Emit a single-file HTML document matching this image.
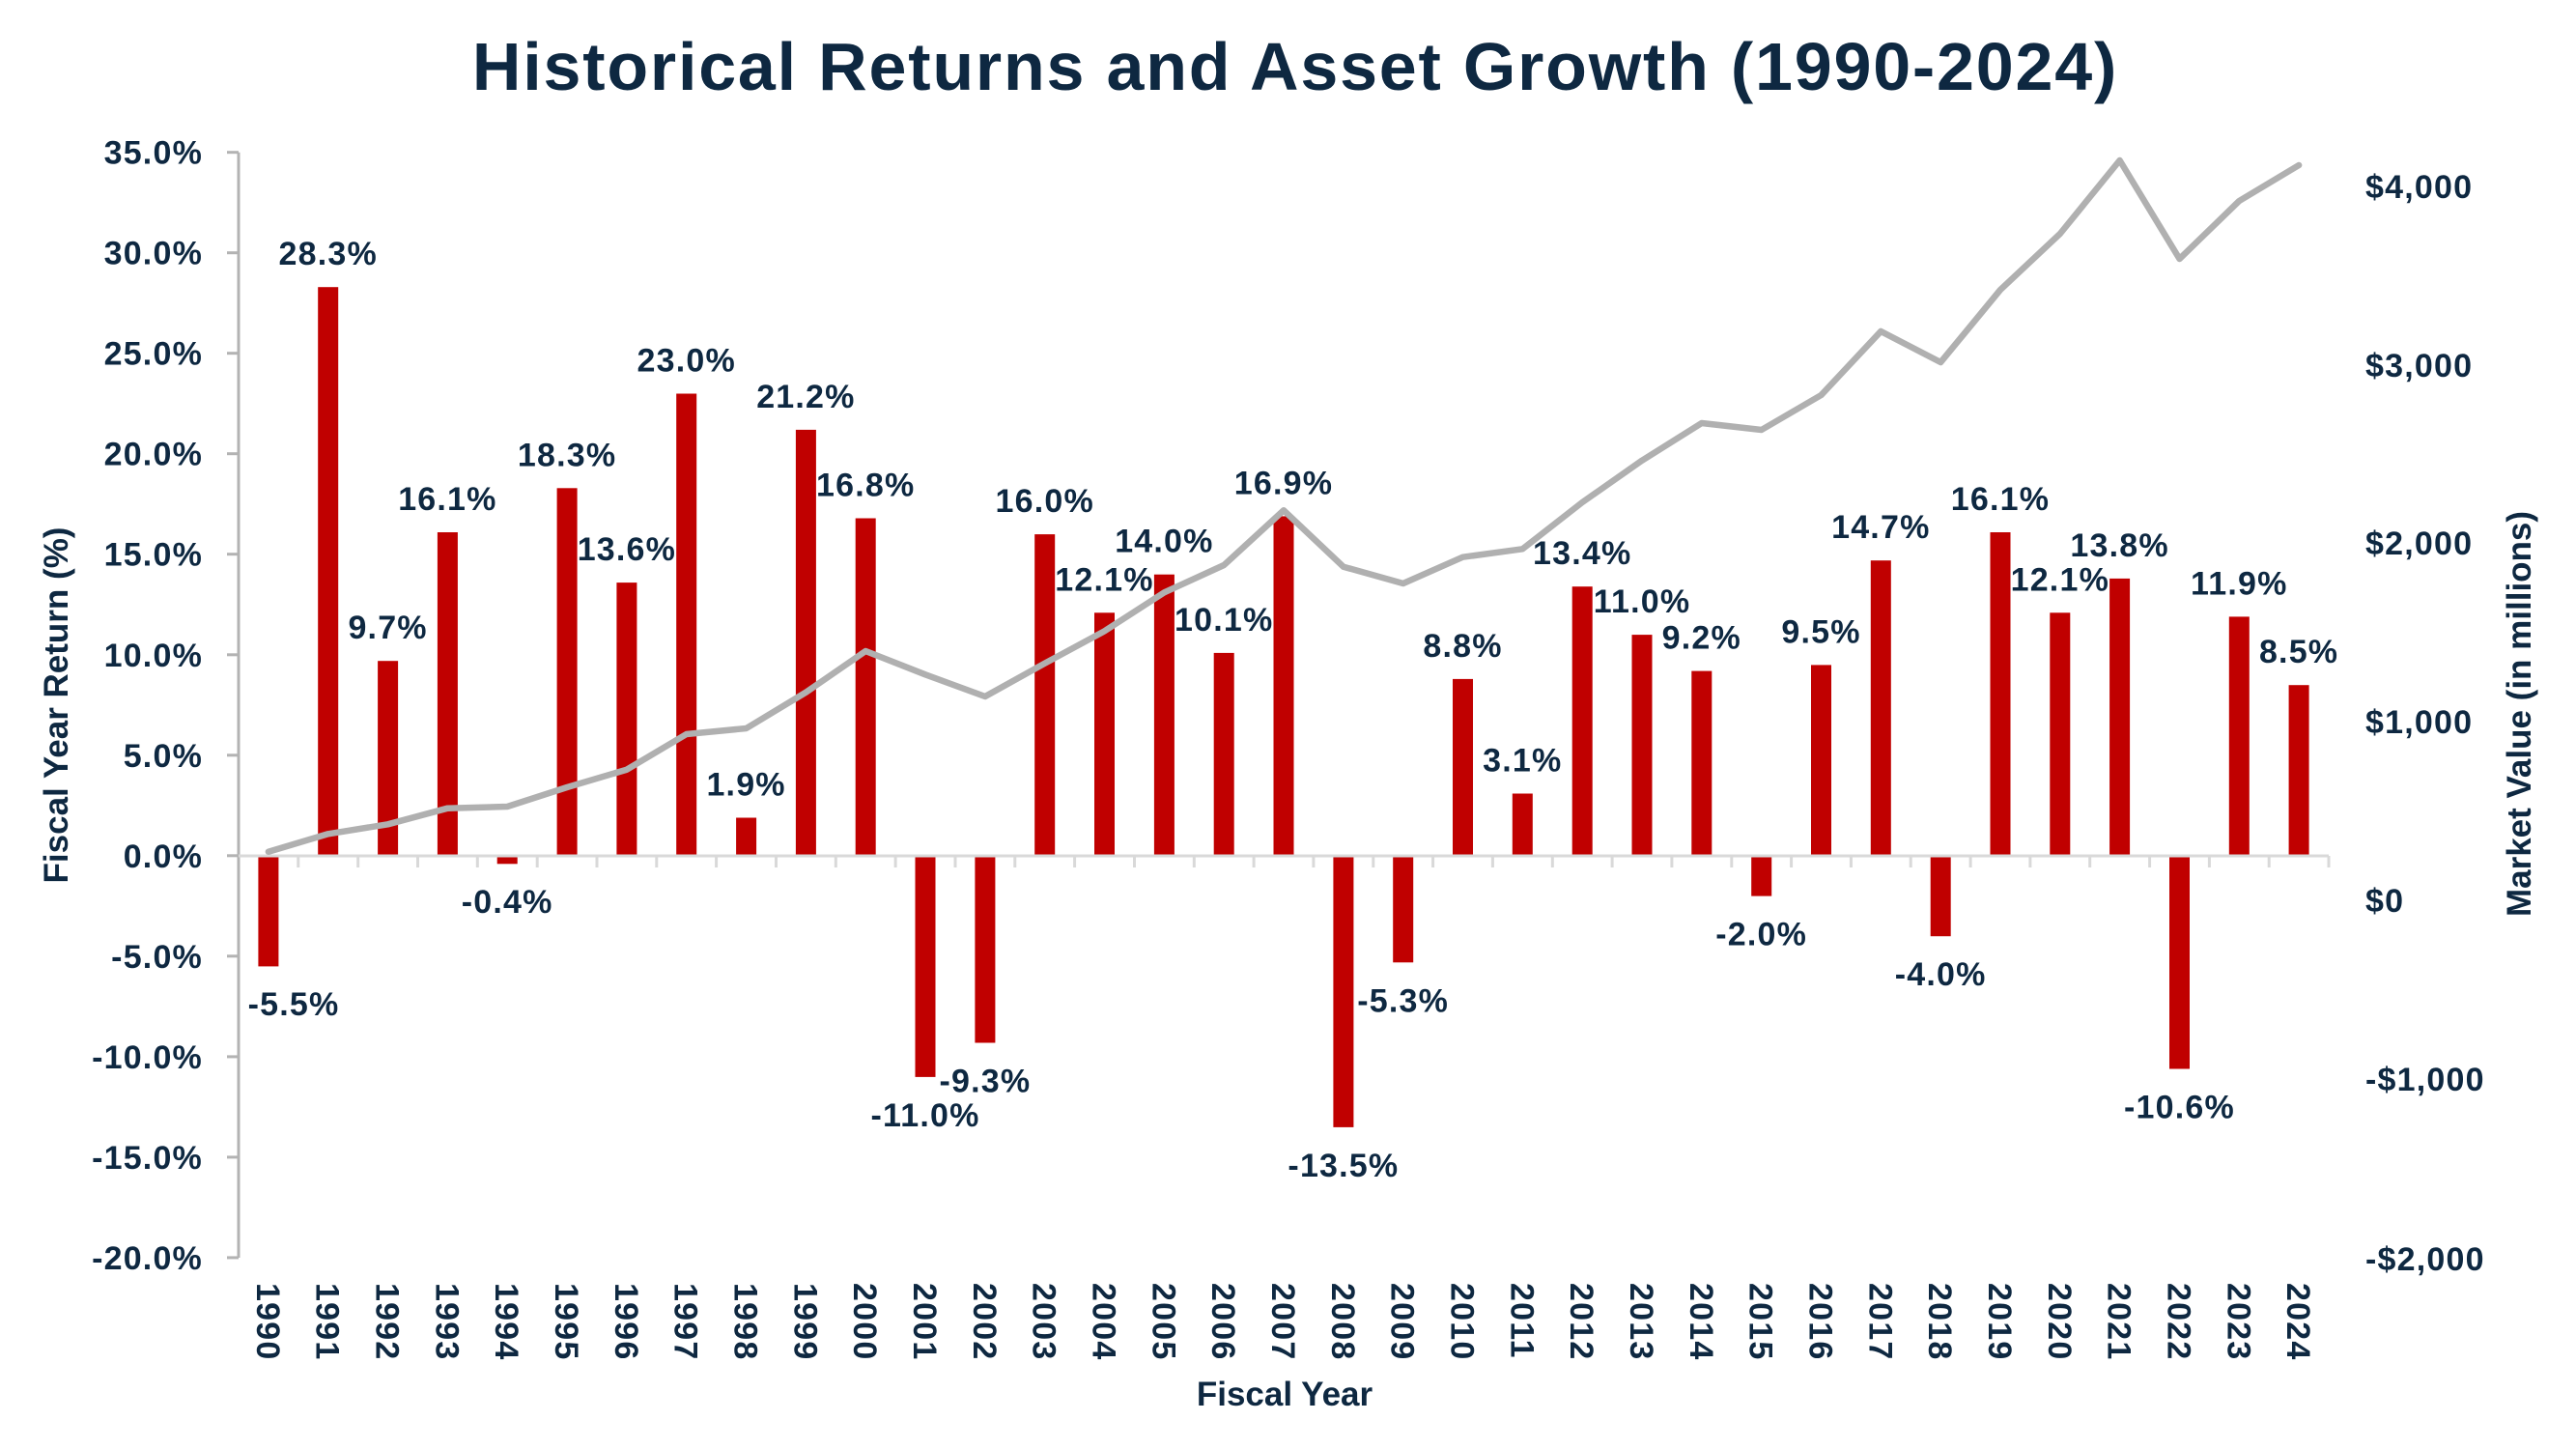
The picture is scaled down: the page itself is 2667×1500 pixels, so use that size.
<!DOCTYPE html>
<html>
<head>
<meta charset="utf-8">
<style>
  html,body{margin:0;padding:0;background:#ffffff;}
  svg{display:block;}
  text{font-family:"Liberation Sans",Arial,sans-serif;font-weight:bold;fill:#0E2841;}
  .tk{font-size:34px;letter-spacing:1.2px;}
  .dl{font-size:34px;letter-spacing:1.2px;text-anchor:middle;}
  .at{font-size:35px;text-anchor:middle;}
</style>
</head>
<body>
<svg width="2667" height="1500" viewBox="0 0 2667 1500" xmlns="http://www.w3.org/2000/svg">
<rect x="0" y="0" width="2667" height="1500" fill="#ffffff"/>

<!-- Title -->
<text x="1341" y="93" style="font-size:70px;letter-spacing:1.8px;" text-anchor="middle">Historical Returns and Asset Growth (1990-2024)</text>

<!-- Left axis -->
<g stroke="#b3b3b3" stroke-width="3" fill="none">
  <line x1="247" y1="157.7" x2="247" y2="1302"/>
  <line x1="235" y1="157.7" x2="247" y2="157.7"/>
  <line x1="235" y1="261.7" x2="247" y2="261.7"/>
  <line x1="235" y1="365.7" x2="247" y2="365.7"/>
  <line x1="235" y1="469.7" x2="247" y2="469.7"/>
  <line x1="235" y1="573.7" x2="247" y2="573.7"/>
  <line x1="235" y1="677.8" x2="247" y2="677.8"/>
  <line x1="235" y1="781.8" x2="247" y2="781.8"/>
  <line x1="235" y1="885.8" x2="247" y2="885.8"/>
  <line x1="235" y1="989.8" x2="247" y2="989.8"/>
  <line x1="235" y1="1093.9" x2="247" y2="1093.9"/>
  <line x1="235" y1="1197.9" x2="247" y2="1197.9"/>
  <line x1="235" y1="1301.9" x2="247" y2="1301.9"/>
</g>
<g class="tk" text-anchor="end">
  <text x="210" y="169.7">35.0%</text>
  <text x="210" y="273.7">30.0%</text>
  <text x="210" y="377.7">25.0%</text>
  <text x="210" y="481.7">20.0%</text>
  <text x="210" y="585.7">15.0%</text>
  <text x="210" y="689.8">10.0%</text>
  <text x="210" y="793.8">5.0%</text>
  <text x="210" y="897.8">0.0%</text>
  <text x="210" y="1001.8">-5.0%</text>
  <text x="210" y="1105.9">-10.0%</text>
  <text x="210" y="1209.9">-15.0%</text>
  <text x="210" y="1313.9">-20.0%</text>
</g>

<!-- Right axis labels -->
<g class="tk" text-anchor="start">
  <text x="2449" y="205">$4,000</text>
  <text x="2449" y="390">$3,000</text>
  <text x="2449" y="574">$2,000</text>
  <text x="2449" y="759">$1,000</text>
  <text x="2449" y="944">$0</text>
  <text x="2449" y="1129">-$1,000</text>
  <text x="2449" y="1315">-$2,000</text>
</g>

<!-- Bars -->
<g fill="#C00000">
  <rect x="267.4" y="886" width="21" height="114.4"/>
  <rect x="329.2" y="297.2" width="21" height="588.8"/>
  <rect x="391.1" y="684.2" width="21" height="201.8"/>
  <rect x="452.9" y="551.0" width="21" height="335.0"/>
  <rect x="514.7" y="886" width="21" height="8.3"/>
  <rect x="576.6" y="505.3" width="21" height="380.7"/>
  <rect x="638.4" y="603.1" width="21" height="282.9"/>
  <rect x="700.2" y="407.5" width="21" height="478.5"/>
  <rect x="762.1" y="846.5" width="21" height="39.5"/>
  <rect x="823.9" y="444.9" width="21" height="441.1"/>
  <rect x="885.7" y="536.5" width="21" height="349.5"/>
  <rect x="947.5" y="886" width="21" height="228.9"/>
  <rect x="1009.4" y="886" width="21" height="193.5"/>
  <rect x="1071.2" y="553.1" width="21" height="332.9"/>
  <rect x="1133.0" y="634.3" width="21" height="251.7"/>
  <rect x="1194.9" y="594.7" width="21" height="291.3"/>
  <rect x="1256.7" y="675.9" width="21" height="210.1"/>
  <rect x="1318.5" y="534.4" width="21" height="351.6"/>
  <rect x="1380.4" y="886" width="21" height="280.9"/>
  <rect x="1442.2" y="886" width="21" height="110.3"/>
  <rect x="1504.0" y="702.9" width="21" height="183.1"/>
  <rect x="1565.8" y="821.5" width="21" height="64.5"/>
  <rect x="1627.7" y="607.2" width="21" height="278.8"/>
  <rect x="1689.5" y="657.1" width="21" height="228.9"/>
  <rect x="1751.3" y="694.6" width="21" height="191.4"/>
  <rect x="1813.2" y="886" width="21" height="41.6"/>
  <rect x="1875.0" y="688.4" width="21" height="197.6"/>
  <rect x="1936.8" y="580.2" width="21" height="305.8"/>
  <rect x="1998.7" y="886" width="21" height="83.2"/>
  <rect x="2060.5" y="551.0" width="21" height="335.0"/>
  <rect x="2122.3" y="634.3" width="21" height="251.7"/>
  <rect x="2184.1" y="598.9" width="21" height="287.1"/>
  <rect x="2246.0" y="886" width="21" height="220.5"/>
  <rect x="2307.8" y="638.4" width="21" height="247.6"/>
  <rect x="2369.6" y="709.2" width="21" height="176.8"/>
</g>

<!-- X axis -->
<g stroke="#d9d9d9" stroke-width="3" fill="none">
  <line x1="247" y1="886" x2="2411" y2="886"/>
  <path d="M308.8 886V898M370.7 886V898M432.5 886V898M494.3 886V898M556.2 886V898M618 886V898M679.8 886V898M741.6 886V898M803.5 886V898M865.3 886V898M927.1 886V898M989 886V898M1050.8 886V898M1112.6 886V898M1174.5 886V898M1236.3 886V898M1298.1 886V898M1359.9 886V898M1421.8 886V898M1483.6 886V898M1545.4 886V898M1607.3 886V898M1669.1 886V898M1730.9 886V898M1792.8 886V898M1854.6 886V898M1916.4 886V898M1978.2 886V898M2040.1 886V898M2101.9 886V898M2163.7 886V898M2225.6 886V898M2287.4 886V898M2349.2 886V898M2411 886V898"/>
</g>

<!-- Line series -->
<polyline fill="none" stroke="#b0b0b0" stroke-width="6.5" stroke-linejoin="round" stroke-linecap="round"
 points="277.9,881.7 339.7,863.3 401.6,853.3 463.4,836.7 525.2,835 587.1,815 648.9,796.7 710.7,760 772.6,754 834.4,716.7 896.2,674 958,698.3 1019.9,721 1081.7,686.7 1143.5,653.3 1205.4,613.3 1267.2,585 1329,528.3 1390.9,586.7 1452.7,604 1514.5,576.7 1576.3,568.3 1638.2,520 1700,476.7 1761.8,438 1823.7,445 1885.5,409 1947.3,343 2009.2,375 2071,300 2132.8,242 2194.6,166 2256.5,268 2318.3,208 2380.1,171"/>

<!-- Data labels -->
<g class="dl">
  <text x="304" y="1051">-5.5%</text>
  <text x="339.7" y="274.2">28.3%</text>
  <text x="401.6" y="661.2">9.7%</text>
  <text x="463.4" y="528">16.1%</text>
  <text x="525.2" y="945">-0.4%</text>
  <text x="587.1" y="482.3">18.3%</text>
  <text x="648.9" y="580.1">13.6%</text>
  <text x="710.7" y="384.5">23.0%</text>
  <text x="772.6" y="823.5">1.9%</text>
  <text x="834.4" y="421.9">21.2%</text>
  <text x="896.2" y="513.5">16.8%</text>
  <text x="958.0" y="1166">-11.0%</text>
  <text x="1019.9" y="1130.5">-9.3%</text>
  <text x="1081.7" y="530.1">16.0%</text>
  <text x="1143.5" y="611.3">12.1%</text>
  <text x="1205.4" y="571.7">14.0%</text>
  <text x="1267.2" y="652.9">10.1%</text>
  <text x="1329.0" y="511.4">16.9%</text>
  <text x="1390.9" y="1217.9">-13.5%</text>
  <text x="1452.7" y="1047.3">-5.3%</text>
  <text x="1514.5" y="679.9">8.8%</text>
  <text x="1576.3" y="798.5">3.1%</text>
  <text x="1638.2" y="584.2">13.4%</text>
  <text x="1700.0" y="634.1">11.0%</text>
  <text x="1761.8" y="671.6">9.2%</text>
  <text x="1823.7" y="978.6">-2.0%</text>
  <text x="1885.5" y="665.4">9.5%</text>
  <text x="1947.3" y="557.2">14.7%</text>
  <text x="2009.2" y="1020.2">-4.0%</text>
  <text x="2071.0" y="528">16.1%</text>
  <text x="2132.8" y="611.3">12.1%</text>
  <text x="2194.6" y="575.9">13.8%</text>
  <text x="2256.5" y="1157.5">-10.6%</text>
  <text x="2318.3" y="615.4">11.9%</text>
  <text x="2380.1" y="686.2">8.5%</text>
</g>

<!-- Year labels (rotated 90deg clockwise) -->
<g class="tk" text-anchor="start">
  <text transform="translate(265.9,1328) rotate(90)">1990</text>
  <text transform="translate(327.7,1328) rotate(90)">1991</text>
  <text transform="translate(389.6,1328) rotate(90)">1992</text>
  <text transform="translate(451.4,1328) rotate(90)">1993</text>
  <text transform="translate(513.2,1328) rotate(90)">1994</text>
  <text transform="translate(575.1,1328) rotate(90)">1995</text>
  <text transform="translate(636.9,1328) rotate(90)">1996</text>
  <text transform="translate(698.7,1328) rotate(90)">1997</text>
  <text transform="translate(760.6,1328) rotate(90)">1998</text>
  <text transform="translate(822.4,1328) rotate(90)">1999</text>
  <text transform="translate(884.2,1328) rotate(90)">2000</text>
  <text transform="translate(946.0,1328) rotate(90)">2001</text>
  <text transform="translate(1007.9,1328) rotate(90)">2002</text>
  <text transform="translate(1069.7,1328) rotate(90)">2003</text>
  <text transform="translate(1131.5,1328) rotate(90)">2004</text>
  <text transform="translate(1193.4,1328) rotate(90)">2005</text>
  <text transform="translate(1255.2,1328) rotate(90)">2006</text>
  <text transform="translate(1317.0,1328) rotate(90)">2007</text>
  <text transform="translate(1378.9,1328) rotate(90)">2008</text>
  <text transform="translate(1440.7,1328) rotate(90)">2009</text>
  <text transform="translate(1502.5,1328) rotate(90)">2010</text>
  <text transform="translate(1564.3,1328) rotate(90)">2011</text>
  <text transform="translate(1626.2,1328) rotate(90)">2012</text>
  <text transform="translate(1688.0,1328) rotate(90)">2013</text>
  <text transform="translate(1749.8,1328) rotate(90)">2014</text>
  <text transform="translate(1811.7,1328) rotate(90)">2015</text>
  <text transform="translate(1873.5,1328) rotate(90)">2016</text>
  <text transform="translate(1935.3,1328) rotate(90)">2017</text>
  <text transform="translate(1997.2,1328) rotate(90)">2018</text>
  <text transform="translate(2059.0,1328) rotate(90)">2019</text>
  <text transform="translate(2120.8,1328) rotate(90)">2020</text>
  <text transform="translate(2182.6,1328) rotate(90)">2021</text>
  <text transform="translate(2244.5,1328) rotate(90)">2022</text>
  <text transform="translate(2306.3,1328) rotate(90)">2023</text>
  <text transform="translate(2368.1,1328) rotate(90)">2024</text>
</g>

<!-- Axis titles -->
<text class="at" x="1330" y="1455">Fiscal Year</text>
<text class="at" transform="translate(70,730) rotate(-90)">Fiscal Year Return (%)</text>
<text class="at" transform="translate(2620,739) rotate(-90)">Market Value (in millions)</text>
</svg>
</body>
</html>
